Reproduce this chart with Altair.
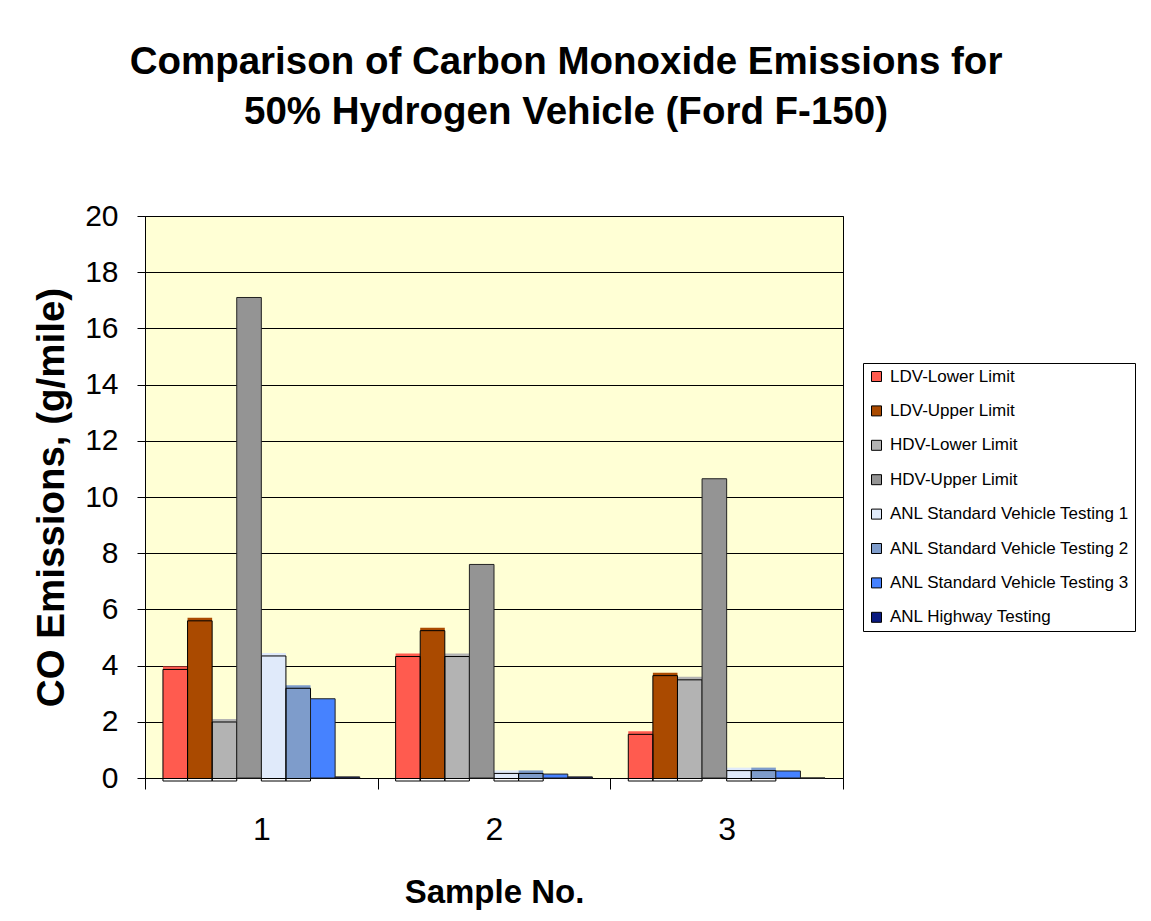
import altair as alt
import pandas as pd

samples = ["1", "2", "3"]
series = [
    "LDV-Lower Limit",
    "LDV-Upper Limit",
    "HDV-Lower Limit",
    "HDV-Upper Limit",
    "ANL Standard Vehicle Testing 1",
    "ANL Standard Vehicle Testing 2",
    "ANL Standard Vehicle Testing 3",
    "ANL Highway Testing",
]
ldv_lower = [3.97, 4.43, 1.66]
ldv_upper = [5.70, 5.35, 3.75]
hdv_lower = [2.10, 4.43, 3.60]
hdv_upper = [17.10, 7.60, 10.65]
anl_std_1 = [4.45, 0.27, 0.37]
anl_std_2 = [3.30, 0.27, 0.37]
anl_std_3 = [2.82, 0.14, 0.25]
anl_highway = [0.04, 0.04, 0.0]
values = [ldv_lower, ldv_upper, hdv_lower, hdv_upper,
          anl_std_1, anl_std_2, anl_std_3, anl_highway]
colors = ["#FF5B4F", "#AA4A00", "#B3B3B3", "#949494",
          "#E0EAFA", "#7E9CCB", "#4682FF", "#0A1A80"]
shadowed = [True, True, True, False, True, True, False, False]

rows = []
for i, s in enumerate(series):
    for j, smp in enumerate(samples):
        rows.append({"sample": smp, "series": s, "value": values[i][j],
                     "shadowed": shadowed[i]})
df = pd.DataFrame(rows)

FONT = "Liberation Sans"

x = alt.X(
    "sample:N",
    sort=samples,
    scale=alt.Scale(paddingInner=0, paddingOuter=0),
    axis=alt.Axis(
        labelAngle=0, labelFontSize=32, labelFont=FONT, labelColor="black",
        labelPadding=25, tickBand="extent", tickSize=11, tickColor="black",
        domainColor="black", grid=False,
        title="Sample No.", titleFontSize=33, titleFont=FONT,
        titleFontWeight="bold", titleColor="black",
        titleY=124, titleBaseline="alphabetic",
    ),
)
xoff = alt.XOffset(
    "series:N",
    sort=series,
    scale=alt.Scale(domain=series, paddingInner=0, paddingOuter=0.73),
)
y = alt.Y(
    "value:Q",
    scale=alt.Scale(domain=[0, 20], nice=False),
    axis=alt.Axis(
        values=list(range(0, 21, 2)), labelFontSize=30, labelFont=FONT,
        labelColor="black", labelPadding=19, tickSize=8, tickColor="black",
        domainColor="black", gridColor="black", gridOpacity=1, gridWidth=1,
        title="CO Emissions, (g/mile)", titleFontSize=38.5, titleFont=FONT,
        titleFontWeight="bold", titleColor="black",
        titleX=-82, titleY=281, titleAngle=270, titleAlign="center",
        titleBaseline="alphabetic",
    ),
)
color = alt.Color(
    "series:N",
    sort=series,
    scale=alt.Scale(domain=series, range=colors),
    legend=alt.Legend(
        title=None, orient="none", legendX=718, legendY=147,
        fillColor="white", strokeColor="black", padding=5,
        labelFontSize=17, labelFont=FONT, labelColor="black", labelLimit=400,
        symbolType="square", symbolSize=100, symbolStrokeColor="black",
        symbolStrokeWidth=1, rowPadding=16.4, labelOffset=5,
    ),
)

base = alt.Chart(df)

fill_shadow = base.transform_filter("datum.shadowed").mark_bar(
    strokeWidth=0
).encode(x=x, xOffset=xoff, y=y, color=color)

outline_shadow = base.transform_filter("datum.shadowed").mark_bar(
    fillOpacity=0, stroke="black", strokeWidth=1,
    xOffset=3, x2Offset=3, yOffset=3, y2Offset=3,
).encode(x=x, xOffset=xoff, y=y)

plain = base.transform_filter("!datum.shadowed").mark_bar(
    stroke="#222222", strokeWidth=1
).encode(x=x, xOffset=xoff, y=y, color=color)

chart = alt.layer(fill_shadow, outline_shadow, plain).properties(
    width=698,
    height=562,
    padding={"left": 137, "top": 208, "right": 300, "bottom": 133},
    autosize=alt.AutoSizeParams(type="none"),
    background="white",
    title=alt.TitleParams(
        text=["Comparison of Carbon Monoxide Emissions for",
              "50% Hydrogen Vehicle (Ford F-150)"],
        fontSize=38.5, font=FONT, fontWeight="bold", color="black",
        anchor="middle", dx=72, offset=69, lineHeight=50,
    ),
).configure_view(
    stroke="black", strokeWidth=1, fill="#FFFFD5"
)

chart.save("out.html", embed_options={"renderer": "svg", "actions": False})
